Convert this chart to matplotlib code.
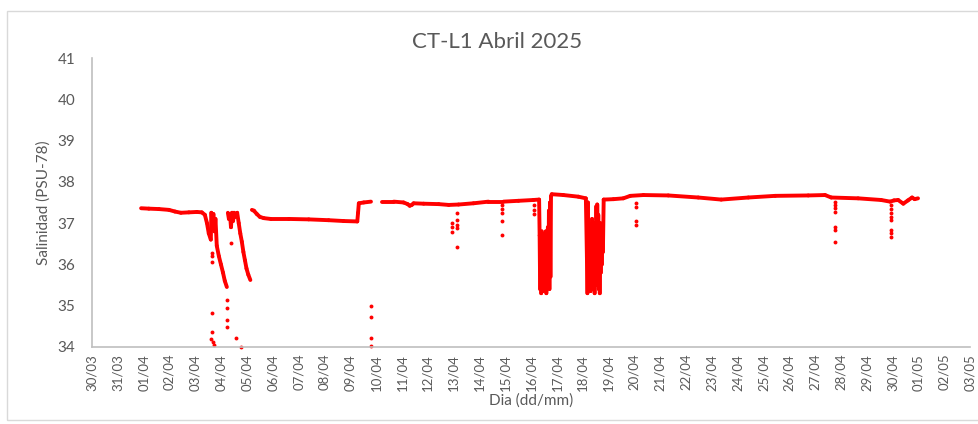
import numpy as np
import pandas as pd
import matplotlib
matplotlib.use("Agg")
import matplotlib.pyplot as plt
import matplotlib.dates as mdates
from matplotlib.collections import LineCollection
from matplotlib.patches import Rectangle

# Serie continua: dia de abril (con fraccion de dia) y salinidad; nan = hueco sin datos
dia = [0.90, 1.20, 1.59, 1.98, 2.21, 2.44, 2.75, 3.06, 3.25, 3.37, 3.45, 3.52, 3.60,
       3.62, 3.66, 3.70, 3.74, 3.78, 3.83, 3.91, 3.99, 4.07, 4.14, 4.22, np.nan,
       4.26, 4.30, 4.34, 4.38, 4.42, 4.46, 4.50, 4.55, 4.62, 4.68, 4.74, 4.80, 4.86,
       4.92, 4.98, 5.05, 5.13, np.nan,
       5.19, 5.27, 5.38, 5.50, 5.65, 5.92, 6.62, 7.39, 8.16, 8.74, 9.27, 9.30, 9.33,
       9.52, 9.80, np.nan,
       10.21, 10.68, 11.06, 11.22, 11.30, 11.38, 11.45, 11.84, 12.42, 12.81, 13.19,
       13.77, 14.35, 14.93, 15.51, 16.09, 16.31,
       16.33, 16.35, 16.37, 16.39, 16.41, 16.43, 16.45, 16.47, 16.49, 16.51, 16.53,
       16.55, 16.57, 16.59, 16.61, 16.63, 16.65, 16.67, 16.69, 16.71, 16.73, 16.75,
       16.77, 16.80, 17.25, 17.83, 18.12,
       18.16, 18.18, 18.20, 18.22, 18.24, 18.26, 18.28, 18.30, 18.32, 18.34, 18.36,
       18.38, 18.40, 18.42, 18.44, 18.46, 18.48, 18.50, 18.52, 18.54, 18.56, 18.58,
       18.60, 18.62, 18.64, 18.66, 18.68, 18.70, 18.72, 18.74, 18.76, 18.78,
       18.81, 19.19, 19.57, 19.84, 20.35, 21.31, 22.47, 23.36, 24.41, 25.45, 26.73,
       27.38, 27.62, 28.66, 29.55, 29.90, 30.05, 30.21, 30.41, 30.59, 30.75, 30.85, 30.98]
sal = [37.36, 37.35, 37.34, 37.32, 37.28, 37.25, 37.26, 37.27, 37.26, 37.20, 37.00, 36.75, 36.60,
       37.25, 36.90, 37.22, 36.80, 37.10, 36.45, 36.20, 36.00, 35.80, 35.60, 35.45, np.nan,
       37.25, 37.10, 37.22, 36.90, 37.25, 37.05, 37.25, 37.15, 37.25, 37.00, 36.75, 36.55, 36.30,
       36.10, 35.90, 35.75, 35.62, np.nan,
       37.32, 37.30, 37.22, 37.15, 37.12, 37.10, 37.10, 37.09, 37.07, 37.05, 37.04, 37.25, 37.48,
       37.50, 37.52, np.nan,
       37.52, 37.52, 37.50, 37.46, 37.42, 37.44, 37.48, 37.47, 37.46, 37.44, 37.45,
       37.48, 37.52, 37.52, 37.54, 37.56, 37.57,
       36.70, 35.40, 36.60, 35.30, 36.80, 35.50, 36.70, 35.35, 36.60, 35.60, 36.75,
       35.40, 36.80, 35.30, 36.70, 35.50, 36.90, 35.60, 37.30, 35.40, 37.50, 35.70,
       37.65, 37.70, 37.68, 37.64, 37.60,
       36.20, 35.30, 37.50, 35.40, 37.00, 35.50, 36.80, 35.35, 36.90, 35.60, 37.10,
       35.40, 36.70, 35.50, 37.00, 35.30, 36.90, 35.60, 37.40, 35.50, 37.45, 35.60,
       37.20, 35.40, 36.80, 35.30, 37.00, 35.80, 36.60, 36.00, 36.90, 36.30,
       37.57, 37.58, 37.60, 37.66, 37.68, 37.67, 37.62, 37.57, 37.62, 37.66, 37.67,
       37.68, 37.62, 37.60, 37.56, 37.52, 37.55, 37.56, 37.47, 37.55, 37.62, 37.58, 37.60]

# Lecturas sueltas (picos de baja salinidad)
dia_picos = [3.64, 3.64, 3.64, 3.64, 3.66, 3.60, 3.68, 3.72,
             4.22, 4.22, 4.22, 4.22, 4.38, 4.57, 4.76,
             9.79, 9.79, 9.79, 9.79,
             12.92, 12.92, 12.92, 13.15, 13.15, 13.15, 13.15, 13.15,
             14.89, 14.89, 14.89, 14.89, 14.89,
             16.13, 16.13, 16.13,
             20.08, 20.08, 20.08, 20.08,
             27.77, 27.77, 27.77, 27.77, 27.77, 27.77, 27.77,
             29.94, 29.94, 29.94, 29.94, 29.94, 29.94, 29.94, 29.94]
sal_picos = [36.28, 36.20, 36.06, 34.83, 34.37, 34.20, 34.12, 34.05,
             35.14, 34.95, 34.66, 34.49, 36.52, 34.22, 34.00,
             34.98, 34.72, 34.22, 34.03,
             37.00, 36.79, 36.90, 37.25, 37.08, 36.96, 36.88, 36.43,
             37.44, 37.34, 37.25, 37.06, 36.71,
             37.44, 37.32, 37.22,
             37.49, 37.40, 37.04, 36.96,
             37.51, 37.44, 37.37, 37.27, 36.91, 36.84, 36.55,
             37.45, 37.35, 37.25, 37.15, 37.08, 36.83, 36.75, 36.67]

base = pd.Timestamp("2025-03-31")
t = base + pd.to_timedelta(dia, unit="D")
t_picos = base + pd.to_timedelta(dia_picos, unit="D")

plt.rcParams["font.family"] = ["Lato", "DejaVu Sans"]
gris = "#595959"

fig = plt.figure(figsize=(9.79, 4.24), dpi=100)
ax = fig.add_axes([0.094, 0.182, 0.897, 0.681])

# puntos sueltos (tambien registra el eje de fechas)
ax.plot(t_picos, sal_picos, "o", color="red", ms=2.8, mec="none", clip_on=False)

# serie continua: un segmento por par de lecturas consecutivas
x = mdates.date2num(t)
y = np.array(sal, dtype=float)
segs = [[(x[i], y[i]), (x[i + 1], y[i + 1])] for i in range(len(x) - 1)
        if np.isfinite(y[i]) and np.isfinite(y[i + 1])]
ax.add_collection(LineCollection(segs, colors="red", linewidths=2.8,
                                 capstyle="round", joinstyle="round"))

ax.set_xlim(pd.Timestamp("2025-03-30"), pd.Timestamp("2025-05-03"))
ax.set_ylim(34, 41)
ax.set_yticks(range(34, 42))
ax.xaxis.set_major_locator(mdates.DayLocator())
ax.xaxis.set_major_formatter(mdates.DateFormatter("%d/%m"))
ax.tick_params(axis="x", length=0, labelrotation=90, labelsize=9.5, colors=gris, pad=5)
ax.tick_params(axis="y", length=0, labelsize=11, colors=gris, pad=12)

for s in ["top", "right"]:
    ax.spines[s].set_visible(False)
for s in ["left", "bottom"]:
    ax.spines[s].set_color("#bfbfbf")
    ax.spines[s].set_linewidth(1.2)

ax.set_ylabel("Salinidad (PSU-78)", fontsize=11, color=gris, labelpad=5)
ax.set_xlabel("Dia (dd/mm)", fontsize=11, color=gris, labelpad=2)
fig.text(0.508, 0.90, "CT-L1 Abril 2025", ha="center", va="center", fontsize=16, color=gris)

# marco del grafico
fig.patches.append(Rectangle((0.0072, 0.0094), 1.1, 0.965, transform=fig.transFigure,
                             fill=False, edgecolor="#d9d9d9", lw=1))

fig.savefig("out.png", dpi=100)
